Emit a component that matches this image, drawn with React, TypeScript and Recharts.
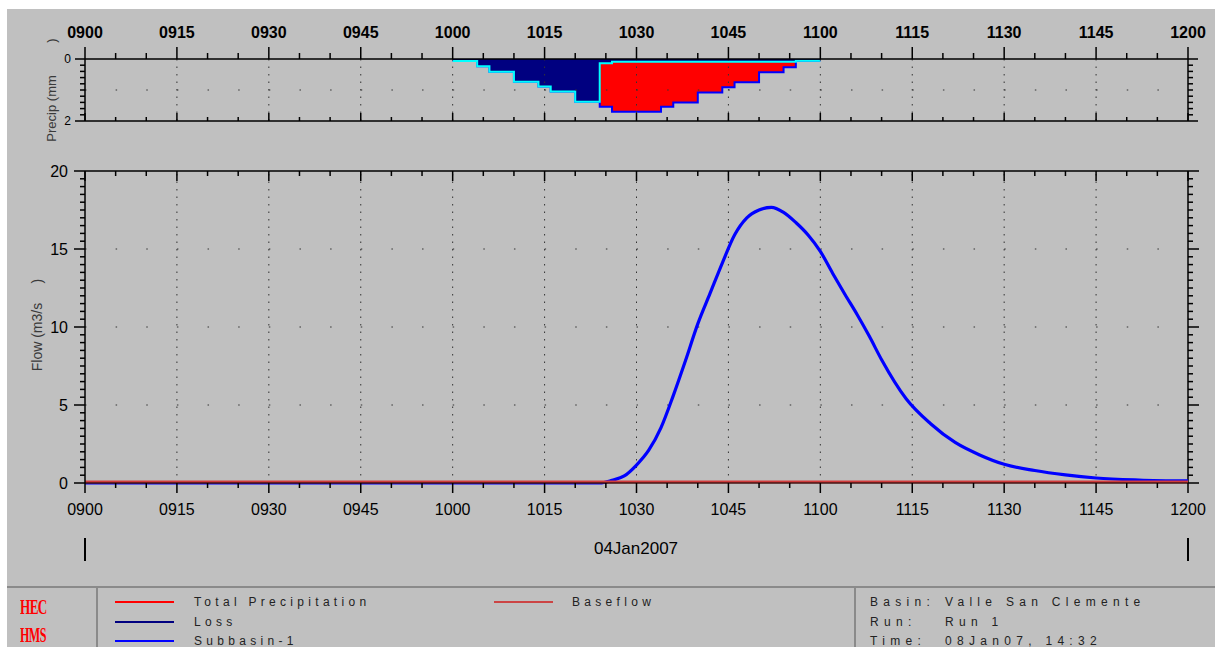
import React from 'react';
import { ComposedChart, Area, Line, XAxis, YAxis, ReferenceLine } from 'recharts';

// minutes after 0900, 04Jan2007
const timeMajorTicks = [0, 15, 30, 45, 60, 75, 90, 105, 120, 135, 150, 165, 180];
const timeLabels = ['0900', '0915', '0930', '0945', '1000', '1015', '1030', '1045', '1100', '1115', '1130', '1145', '1200'];
const timeMinorTicks = [
  0, 5, 10, 15, 20, 25, 30, 35, 40, 45, 50, 55, 60, 65, 70, 75, 80, 85, 90,
  95, 100, 105, 110, 115, 120, 125, 130, 135, 140, 145, 150, 155, 160, 165, 170, 175, 180,
];
const timeGrid = [15, 30, 45, 60, 75, 90, 105, 120, 135, 150, 165];

const precipTicks = [0, 0.2, 0.4, 0.6, 0.8, 1, 1.2, 1.4, 1.6, 1.8, 2];
const precipLabels = [0, 2];
const precipGrid = [1];

const flowTicks = Array.from({ length: 41 }, (_, i) => i * 0.5);
const flowLabels = [0, 5, 10, 15, 20];
const flowGrid = [5, 10, 15];

// precipitation, 2 minute steps (mm)
const precipMinutes = [60, 62, 64, 66, 68, 70, 72, 74, 76, 78, 80, 82, 84, 86, 88, 90, 92, 94, 96, 98, 100, 102, 104, 106, 108, 110, 112, 114, 116, 118, 120];
const totalPrecip = [0.065, 0.065, 0.23, 0.41, 0.41, 0.73, 0.73, 0.89, 1.05, 1.05, 1.38, 1.38, 1.54, 1.7, 1.7, 1.7, 1.7, 1.54, 1.4, 1.4, 1.08, 1.08, 0.91, 0.75, 0.75, 0.43, 0.43, 0.27, 0.06, 0.06, 0.06];
const lossPrecip = [0.065, 0.065, 0.23, 0.41, 0.41, 0.73, 0.73, 0.89, 1.05, 1.05, 1.38, 1.38, 0.14, 0.09, 0.09, 0.09, 0.09, 0.09, 0.09, 0.09, 0.09, 0.09, 0.09, 0.09, 0.09, 0.09, 0.09, 0.09, 0.06, 0.06, 0.06];

// outflow (m3/s)
const flowMinutes = [0, 84, 86, 88, 90, 92, 94, 96, 98, 100, 102, 104, 106, 108, 110, 112, 114, 116, 118, 120, 122, 124, 126, 128, 130, 134, 138, 142, 146, 150, 155, 160, 165, 172, 180];
const subbasinFlow = [0, 0, 0.17, 0.45, 1.15, 2.1, 3.55, 5.6, 7.85, 10.2, 12.15, 14.1, 15.9, 17.0, 17.5, 17.67, 17.35, 16.7, 15.9, 14.85, 13.45, 12.1, 10.8, 9.4, 7.9, 5.4, 3.8, 2.6, 1.8, 1.2, 0.8, 0.52, 0.32, 0.19, 0.13];
const baseflow = [0.06, 0.06, 0.06, 0.06, 0.06, 0.06, 0.06, 0.06, 0.06, 0.06, 0.06, 0.06, 0.06, 0.06, 0.06, 0.06, 0.06, 0.06, 0.06, 0.06, 0.06, 0.06, 0.06, 0.06, 0.06, 0.06, 0.06, 0.06, 0.06, 0.06, 0.06, 0.06, 0.06, 0.06, 0.06];

const precipData = precipMinutes.map((t, i) => ({ t, total: totalPrecip[i], loss: lossPrecip[i] }));
const flowData = flowMinutes.map((t, i) => ({ t, flow: subbasinFlow[i], base: baseflow[i] }));

const PLOT_W = 1103;
const PRECIP_H = 62;
const FLOW_H = 312;
const AX = { stroke: '#000', strokeWidth: 1.5 };
const FONT = 'Arial, "Liberation Sans", sans-serif';

const TopTimeTick = (p: any) => {
  const { x, y, payload } = p;
  const i = timeMajorTicks.indexOf(payload.value);
  const major = i >= 0;
  return (
    <g>
      <line x1={x} y1={y} x2={x} y2={y - (major ? 12 : 6)} {...AX} />
      <line x1={x} y1={y + PRECIP_H} x2={x} y2={y + PRECIP_H - (major ? 8 : 4)} {...AX} />
      {major && (
        <text x={x} y={y - 21} textAnchor="middle" fontSize={16} fontWeight="bold" fontFamily={FONT} fill="#000">
          {timeLabels[i]}
        </text>
      )}
    </g>
  );
};

const BottomTimeTick = (p: any) => {
  const { x, y, payload } = p;
  const i = timeMajorTicks.indexOf(payload.value);
  const major = i >= 0;
  const len = major ? 10 : 5;
  return (
    <g>
      <line x1={x} y1={y} x2={x} y2={y + len} {...AX} />
      <line x1={x} y1={y - FLOW_H} x2={x} y2={y - FLOW_H + len} {...AX} />
      {major && (
        <text x={x} y={y + 32} textAnchor="middle" fontSize={16} fontFamily={FONT} fill="#000">
          {timeLabels[i]}
        </text>
      )}
    </g>
  );
};

const PrecipTick = (p: any) => {
  const { x, y, payload } = p;
  const v = payload.value;
  const major = precipLabels.includes(v);
  const len = major ? 10 : 5;
  return (
    <g>
      <line x1={x} y1={y} x2={x - len} y2={y} {...AX} />
      <line x1={x + PLOT_W} y1={y} x2={x + PLOT_W + len} y2={y} {...AX} />
      {major && (
        <text x={x - 14} y={y + 4.3} textAnchor="end" fontSize={12} fontFamily={FONT} fill="#000">
          {v}
        </text>
      )}
    </g>
  );
};

const FlowTick = (p: any) => {
  const { x, y, payload } = p;
  const v = payload.value;
  const major = flowLabels.includes(v);
  const len = major ? 11 : 5;
  return (
    <g>
      <line x1={x} y1={y} x2={x - len} y2={y} {...AX} />
      <line x1={x + PLOT_W} y1={y} x2={x + PLOT_W + len} y2={y} {...AX} />
      {major && (
        <text x={x - 17} y={y + 5.7} textAnchor="end" fontSize={16} fontFamily={FONT} fill="#000">
          {v}
        </text>
      )}
    </g>
  );
};

const legendLeft = [
  { name: 'Total Precipitation', color: '#ff0000', x: 115, tx: 194, y: 602 },
  { name: 'Loss', color: '#000080', x: 115, tx: 194, y: 622 },
  { name: 'Subbasin-1', color: '#0000ff', x: 115, tx: 194, y: 641 },
  { name: 'Baseflow', color: '#cc4444', x: 494, tx: 572, y: 602 },
];
const runInfo = [
  ['Basin:', 'Valle San Clemente', 602],
  ['Run:', 'Run 1', 622],
  ['Time:', '08Jan07, 14:32', 641],
];

const abs = (s: React.CSSProperties): React.CSSProperties => ({ position: 'absolute', ...s });

export default function App() {
  const dotH = { stroke: '#333', strokeWidth: 1, strokeDasharray: '1.5 29.14' };
  const dotV = { stroke: '#333', strokeWidth: 1, strokeDasharray: '1.5 6' };
  const logo: React.CSSProperties = {
    fontFamily: '"Liberation Serif", serif', fontWeight: 'bold', fontSize: 22, lineHeight: '22px',
    color: '#ff0000', transformOrigin: 'left', letterSpacing: -1,
  };
  const txt: React.CSSProperties = { fontSize: 12, lineHeight: '12px', color: '#222', whiteSpace: 'nowrap' };
  return (
    <div style={abs({ left: 0, top: 0, width: 1215, height: 647, overflow: 'hidden', fontFamily: FONT })}>
      <div style={abs({ left: 7, top: 9, width: 1208, height: 638, background: '#c0c0c0' })} />

      <div style={abs({ left: 0, top: 0 })}>
        <ComposedChart width={1215} height={140} data={precipData} margin={{ top: 0, right: 27, bottom: 19, left: 0 }}>
          <XAxis dataKey="t" type="number" domain={[0, 180]} ticks={timeMinorTicks} interval={0} orientation="top"
            height={59} tickSize={0} tickMargin={0} tickLine={false} axisLine={AX} tick={TopTimeTick} />
          <YAxis type="number" domain={[0, 2]} reversed ticks={precipTicks} interval={0} width={85}
            tickSize={0} tickMargin={0} tickLine={false} axisLine={AX} tick={PrecipTick} />
          <Area type="stepAfter" dataKey="total" baseValue={0} stroke="#0000ff" strokeWidth={2} fill="#ff0000" fillOpacity={1} isAnimationActive={false} />
          <Area type="stepAfter" dataKey="loss" baseValue={0} stroke="#00ffff" strokeWidth={2} fill="#000080" fillOpacity={1} isAnimationActive={false} />
          {precipGrid.map(v => <ReferenceLine key={'h' + v} y={v} {...dotH} />)}
          {timeGrid.map(v => <ReferenceLine key={'v' + v} x={v} {...dotV} />)}
          <ReferenceLine y={2} {...AX} />
          <ReferenceLine x={180} {...AX} />
        </ComposedChart>
      </div>

      <div style={abs({ left: 0, top: 140 })}>
        <ComposedChart width={1215} height={440} data={flowData} margin={{ top: 31, right: 27, bottom: 0, left: 0 }}>
          <XAxis dataKey="t" type="number" domain={[0, 180]} ticks={timeMinorTicks} interval={0}
            height={97} tickSize={0} tickMargin={0} tickLine={false} axisLine={{ stroke: '#000', strokeWidth: 1 }} tick={BottomTimeTick} />
          <YAxis type="number" domain={[0, 20]} ticks={flowTicks} interval={0} width={85}
            tickSize={0} tickMargin={0} tickLine={false} axisLine={AX} tick={FlowTick} />
          {flowGrid.map(v => <ReferenceLine key={'h' + v} y={v} {...dotH} />)}
          {timeGrid.map(v => <ReferenceLine key={'v' + v} x={v} {...dotV} />)}
          <ReferenceLine y={20} {...AX} />
          <ReferenceLine x={180} {...AX} />
          <Line type="monotone" dataKey="flow" stroke="#0000ff" strokeWidth={3.2} dot={false} isAnimationActive={false} />
          <Line type="linear" dataKey="base" stroke="#d23c3c" strokeWidth={3} dot={false} isAnimationActive={false} />
        </ComposedChart>
      </div>

      <div style={abs({ left: 52, top: 90, transform: 'translate(-50%, -50%) rotate(-90deg)', whiteSpace: 'pre', fontSize: 13, color: '#3a3a3a', lineHeight: '14px' })}>
        {'Precip (mm         )'}
      </div>
      <div style={abs({ left: 37, top: 325, transform: 'translate(-50%, -50%) rotate(-90deg)', whiteSpace: 'pre', fontSize: 14, color: '#3a3a3a', lineHeight: '15px' })}>
        {'Flow (m3/s     )'}
      </div>

      <div style={abs({ left: 636, top: 549, transform: 'translate(-50%, -50%)', fontSize: 17, color: '#000', whiteSpace: 'nowrap' })}>04Jan2007</div>
      <div style={abs({ left: 84, top: 538, width: 1.5, height: 23, background: '#000' })} />
      <div style={abs({ left: 1187, top: 538, width: 1.5, height: 23, background: '#000' })} />

      <div style={abs({ left: 7, top: 586, width: 1208, height: 2, background: '#8a8a8a' })} />
      <div style={abs({ left: 96, top: 587, width: 2, height: 60, background: '#8a8a8a' })} />
      <div style={abs({ left: 854, top: 587, width: 2, height: 60, background: '#8a8a8a' })} />

      <div style={abs({ ...logo, left: 20, top: 596, transform: 'scaleX(0.6)' })}>HEC</div>
      <div style={abs({ ...logo, left: 20, top: 624, transform: 'scaleX(0.55)' })}>HMS</div>

      {legendLeft.map(e => (
        <React.Fragment key={e.name}>
          <div style={abs({ left: e.x, top: e.y - 1, width: 59, height: 2, background: e.color })} />
          <div style={abs({ ...txt, left: e.tx, top: e.y - 6, letterSpacing: 4.3 })}>{e.name}</div>
        </React.Fragment>
      ))}
      {runInfo.map(r => (
        <React.Fragment key={r[0] as string}>
          <div style={abs({ ...txt, left: 870, top: (r[2] as number) - 6, letterSpacing: 5.3 })}>{r[0]}</div>
          <div style={abs({ ...txt, left: 945, top: (r[2] as number) - 6, letterSpacing: 5.3 })}>{r[1]}</div>
        </React.Fragment>
      ))}
    </div>
  );
}
